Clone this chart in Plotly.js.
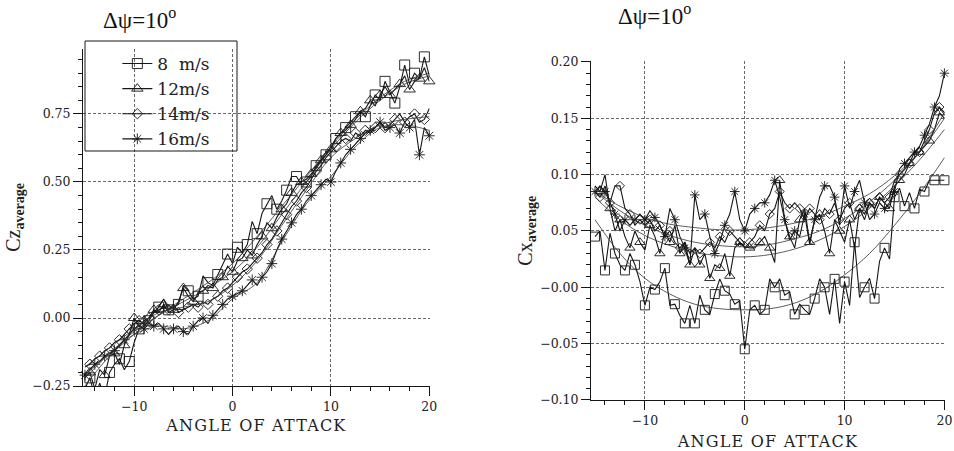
<!DOCTYPE html>
<html>
<head>
<meta charset="utf-8">
<script src="https://cdn.plot.ly/plotly-3.0.1.min.js"></script>
<style>
html,body{margin:0;padding:0;background:#fff;}
#chart{width:954px;height:451px;}
#chart text.xtitle, #chart text.x2title{letter-spacing:1.2px;}
</style>
</head>
<body>
<div id="chart"></div>
<script>
// Angle of attack (deg)
const angle = [
  -15,-14.5,-14,-13.5,-13,-12.5,-12,-11.5,-11,-10.5,
  -10,-9.5,-9,-8.5,-8,-7.5,-7,-6.5,-6,-5.5,
  -5,-4.5,-4,-3.5,-3,-2.5,-2,-1.5,-1,-0.5,
  0,0.5,1,1.5,2,2.5,3,3.5,4,4.5,
  5,5.5,6,6.5,7,7.5,8,8.5,9,9.5,
  10,10.5,11,11.5,12,12.5,13,13.5,14,14.5,
  15,15.5,16,16.5,17,17.5,18,18.5,19,19.5,
  20];
const seriesNames = ["8\u00a0 m/s", "12m/s", "14m/s", "16m/s"];

// Cz average
const cz8 = [
  -0.26,-0.22,-0.29,-0.24,-0.29,-0.20,-0.17,-0.15,-0.19,-0.16,
  -0.09,-0.04,-0.03,-0.01,0.02,0.04,0.07,0.03,0.04,0.05,
  0.12,0.10,0.07,0.08,0.155,0.13,0.12,0.16,0.20,0.235,
  0.20,0.26,0.24,0.27,0.355,0.31,0.385,0.42,0.45,0.40,
  0.43,0.47,0.52,0.52,0.49,0.50,0.52,0.56,0.58,0.60,
  0.63,0.66,0.68,0.70,0.72,0.74,0.76,0.74,0.78,0.82,
  0.80,0.87,0.83,0.79,0.85,0.93,0.86,0.90,0.88,0.96,
  0.89];
const cz12 = [
  -0.22,-0.20,-0.26,-0.19,-0.21,-0.14,-0.13,-0.17,-0.10,-0.06,
  0.00,-0.03,-0.01,0.00,0.03,0.02,0.05,0.02,0.03,0.06,
  0.11,0.08,0.06,0.09,0.10,0.12,0.11,0.14,0.15,0.19,
  0.17,0.21,0.22,0.25,0.23,0.27,0.30,0.35,0.33,0.37,
  0.40,0.42,0.46,0.49,0.50,0.51,0.53,0.55,0.58,0.61,
  0.62,0.66,0.68,0.69,0.71,0.73,0.76,0.77,0.80,0.78,
  0.82,0.85,0.82,0.84,0.86,0.89,0.84,0.87,0.88,0.92,
  0.87];
const cz14 = [
  -0.18,-0.17,-0.15,-0.14,-0.12,-0.11,-0.09,-0.08,-0.06,-0.04,
  -0.02,-0.01,-0.02,0.00,0.02,0.03,0.04,0.03,0.05,0.02,
  0.03,0.04,0.05,0.04,0.06,0.05,0.07,0.08,0.10,0.11,
  0.13,0.15,0.17,0.18,0.20,0.22,0.24,0.27,0.29,0.32,
  0.35,0.38,0.41,0.43,0.46,0.48,0.51,0.54,0.56,0.59,
  0.61,0.63,0.65,0.66,0.65,0.68,0.67,0.69,0.68,0.70,
  0.72,0.70,0.71,0.73,0.75,0.72,0.74,0.75,0.72,0.73,
  0.77];
const cz16 = [
  -0.21,-0.19,-0.17,-0.16,-0.14,-0.13,-0.12,-0.10,-0.08,-0.06,
  -0.04,-0.03,-0.04,-0.02,-0.03,-0.02,-0.04,-0.06,-0.04,-0.03,
  -0.05,-0.06,-0.03,-0.01,0.00,-0.02,0.01,0.03,0.05,0.07,
  0.08,0.09,0.10,0.12,0.14,0.12,0.15,0.17,0.20,0.25,
  0.29,0.32,0.35,0.38,0.40,0.43,0.45,0.47,0.49,0.51,
  0.50,0.54,0.57,0.60,0.62,0.64,0.66,0.68,0.69,0.70,
  0.72,0.69,0.70,0.71,0.68,0.72,0.70,0.73,0.60,0.70,
  0.67];

// Cx average
const cx8 = [
  0.045,0.05,0.015,0.048,0.03,0.02,0.015,0.03,0.02,0.005,
  -0.016,0.0,-0.002,0.005,0.017,-0.016,-0.015,-0.025,-0.032,-0.016,
  -0.032,-0.007,-0.02,-0.024,-0.006,0.0075,-0.003,-0.006,-0.015,-0.012,
  -0.055,-0.02,-0.016,-0.024,-0.02,0.0075,0.0,0.0075,-0.007,-0.004,
  -0.024,-0.015,-0.02,-0.024,-0.01,0.0075,0.0,-0.024,0.0075,-0.032,
  0.005,-0.016,0.04,-0.009,0.0,0.008,-0.01,0.023,0.035,0.025,
  0.08,0.088,0.072,0.084,0.07,0.087,0.085,0.095,0.095,0.095,
  0.095];
const cx12 = [
  0.09,0.085,0.10,0.07,0.05,0.06,0.045,0.035,0.05,0.04,
  0.033,0.055,0.045,0.03,0.05,0.04,0.055,0.03,0.04,0.02,
  0.035,0.02,0.03,0.008,0.02,0.017,0.03,0.01,0.035,0.04,
  0.036,0.035,0.035,0.04,0.045,0.035,0.022,0.095,0.06,0.045,
  0.035,0.06,0.07,0.04,0.06,0.065,0.05,0.03,0.06,0.05,
  0.04,0.06,0.035,0.07,0.06,0.075,0.07,0.08,0.075,0.07,
  0.09,0.095,0.10,0.11,0.115,0.12,0.125,0.13,0.14,0.155,
  0.15];
const cx14 = [
  0.085,0.08,0.09,0.075,0.09,0.09,0.07,0.065,0.055,0.06,
  0.055,0.06,0.05,0.055,0.045,0.05,0.04,0.035,0.04,0.03,
  0.035,0.03,0.035,0.04,0.035,0.045,0.04,0.05,0.045,0.04,
  0.035,0.04,0.045,0.055,0.05,0.065,0.07,0.085,0.075,0.07,
  0.075,0.07,0.06,0.07,0.065,0.06,0.07,0.065,0.075,0.06,
  0.07,0.075,0.06,0.07,0.065,0.075,0.07,0.08,0.075,0.08,
  0.095,0.10,0.105,0.11,0.12,0.12,0.13,0.14,0.155,0.16,
  0.155];
const cx16 = [
  0.085,0.09,0.085,0.075,0.065,0.05,0.06,0.055,0.06,0.065,
  0.06,0.068,0.062,0.055,0.045,0.07,0.06,0.045,0.035,0.02,
  0.082,0.06,0.065,0.045,0.03,0.04,0.055,0.065,0.085,0.06,
  0.05,0.065,0.07,0.075,0.075,0.082,0.095,0.08,0.06,0.042,
  0.05,0.045,0.065,0.038,0.06,0.08,0.09,0.09,0.08,0.055,
  0.09,0.07,0.085,0.095,0.075,0.06,0.065,0.075,0.07,0.075,
  0.085,0.105,0.11,0.115,0.12,0.125,0.135,0.145,0.16,0.17,
  0.19];

// Smoothed fit curves
const fitAngle = [-15,-12.5,-10,-7.5,-5,-2.5,0,2.5,5,7.5,10,12.5,15,17.5,20];
const czFit8  = [-0.25,-0.14,-0.06,0.01,0.07,0.13,0.20,0.30,0.41,0.52,0.63,0.73,0.81,0.87,0.90];
const czFit12 = [-0.22,-0.13,-0.05,0.01,0.06,0.11,0.17,0.26,0.38,0.50,0.62,0.72,0.80,0.86,0.89];
const czFit14 = [-0.18,-0.11,-0.04,0.02,0.04,0.06,0.12,0.21,0.34,0.47,0.59,0.66,0.71,0.73,0.74];
const czFit16 = [-0.21,-0.13,-0.06,-0.03,-0.04,-0.01,0.07,0.13,0.28,0.42,0.52,0.63,0.70,0.71,0.69];
const cxFit8  = [0.06,0.03,0.008,-0.006,-0.015,-0.019,-0.02,-0.019,-0.014,-0.004,0.011,0.03,0.055,0.083,0.115];
const cxFit12 = [0.08,0.06,0.046,0.037,0.031,0.028,0.027,0.029,0.034,0.042,0.054,0.07,0.09,0.113,0.14];
const cxFit14 = [0.085,0.068,0.055,0.046,0.04,0.037,0.036,0.038,0.043,0.05,0.061,0.076,0.095,0.12,0.155];
const cxFit16 = [0.085,0.072,0.062,0.056,0.053,0.051,0.051,0.053,0.057,0.063,0.072,0.083,0.099,0.12,0.15];

// Axis tick labels
const xTickVals = [-10, 0, 10, 20];
const xTickText = ["\u221210", "0", "10", "20"];
const czTickVals = [-0.25, 0, 0.25, 0.5, 0.75];
const czTickText = ["\u22120.25", "0.00", "0.25", "0.50", "0.75"];
const cxTickVals = [-0.10, -0.05, 0, 0.05, 0.10, 0.15, 0.20];
const cxTickText = ["\u22120.10", "\u22120.05", "\u22120.00", "0.05", "0.10", "0.15", "0.20"];

const INK = "#161616";
const symbols = ["square-open", "triangle-up-open", "diamond-open", "asterisk-open"];
const sizes = [10, 10, 8, 9];
const czData = [cz8, cz12, cz14, cz16];
const cxData = [cx8, cx12, cx14, cx16];
const czFits = [czFit8, czFit12, czFit14, czFit16];
const cxFits = [cxFit8, cxFit12, cxFit14, cxFit16];

const traces = [];
for (let i = 0; i < 4; i++) {
  traces.push({
    type: "scatter", mode: "lines+markers", x: angle, y: czData[i], name: seriesNames[i],
    xaxis: "x", yaxis: "y", legendgroup: "g" + i, cliponaxis: false,
    line: {color: INK, width: 1.1},
    marker: {symbol: symbols[i], size: sizes[i], color: INK, maxdisplayed: 36,
             line: {color: INK, width: 0.9}}
  });
}
for (let i = 0; i < 4; i++) {
  traces.push({
    type: "scatter", mode: "lines+markers", x: angle, y: cxData[i], name: seriesNames[i],
    xaxis: "x2", yaxis: "y2", legendgroup: "g" + i, showlegend: false, cliponaxis: false,
    line: {color: INK, width: 1.1},
    marker: {symbol: symbols[i], size: sizes[i] - 1, color: INK, maxdisplayed: 36,
             line: {color: INK, width: 0.9}}
  });
}
for (let i = 0; i < 4; i++) {
  traces.push({type: "scatter", mode: "lines", x: fitAngle, y: czFits[i], xaxis: "x", yaxis: "y",
    showlegend: false, hoverinfo: "skip", line: {color: "#333", width: 0.8, shape: "spline"}});
  traces.push({type: "scatter", mode: "lines", x: fitAngle, y: cxFits[i], xaxis: "x2", yaxis: "y2",
    showlegend: false, hoverinfo: "skip", line: {color: "#333", width: 0.8, shape: "spline"}});
}

const SERIF = "DejaVu Serif, serif";
const tickFont = {family: SERIF, size: 12.5, color: "#222"};
const titleFont = {family: SERIF, size: 16, color: "#222"};
const yTitleFont = {family: "Liberation Serif, serif", size: 20, color: "#222"};
const axBase = {
  showline: true, linecolor: INK, linewidth: 1, mirror: false,
  showgrid: true, gridcolor: "#444", gridwidth: 0.8, griddash: "3px,2px",
  zeroline: false, ticks: "outside", ticklen: 9, tickcolor: INK, tickwidth: 1,
  tickfont: tickFont, tickmode: "array", fixedrange: true
};

const layout = {
  width: 954, height: 451,
  margin: {l: 0, r: 0, t: 0, b: 0},
  paper_bgcolor: "#fff", plot_bgcolor: "rgba(0,0,0,0)",
  showlegend: true,
  legend: {x: 0.123, y: 1 - 46/451, xanchor: "left", yanchor: "top", bgcolor: "rgba(0,0,0,0)",
           borderwidth: 0, font: {family: SERIF, size: 17, color: "#222"},
           tracegroupgap: 0},
  xaxis: Object.assign({}, axBase, {
    domain: [0.087, 0.4505], range: [-15.2, 20.05], anchor: "y",
    tickvals: xTickVals, ticktext: xTickText,
    minor: {tickmode: "linear", tick0: 0, dtick: 2, ticks: "outside", ticklen: 4, tickcolor: INK, showgrid: false},
    title: {text: "ANGLE OF ATTACK", font: titleFont, standoff: 6}
  }),
  yaxis: Object.assign({}, axBase, {
    domain: [0.1441, 0.892], range: [-0.25, 0.99], anchor: "x",
    tickvals: czTickVals, ticktext: czTickText,
    minor: {tickmode: "linear", tick0: 0, dtick: 0.05, ticks: "outside", ticklen: 4, tickcolor: INK, showgrid: false},
    title: {text: "Cz<sub><b>average</b></sub>", font: yTitleFont, standoff: 6}
  }),
  xaxis2: Object.assign({}, axBase, {
    domain: [0.6195, 0.9905], range: [-15.4, 20.05], anchor: "y2",
    tickvals: xTickVals, ticktext: xTickText,
    minor: {tickmode: "linear", tick0: 0, dtick: 2, ticks: "outside", ticklen: 4, tickcolor: INK, showgrid: false},
    title: {text: "ANGLE OF ATTACK", font: titleFont, standoff: 8}
  }),
  yaxis2: Object.assign({}, axBase, {
    domain: [0.1131, 0.8639], range: [-0.10, 0.2005], anchor: "x2",
    tickvals: cxTickVals, ticktext: cxTickText,
    minor: {tickmode: "linear", tick0: 0, dtick: 0.01, ticks: "outside", ticklen: 4, tickcolor: INK, showgrid: false},
    title: {text: "Cx<sub><b>average</b></sub>", font: yTitleFont, standoff: 2}
  }),
  shapes: [
    {type: "rect", xref: "paper", yref: "paper", x0: 85/954, x1: 237/954, y0: 1 - 151/451, y1: 1 - 41/451,
     line: {color: INK, width: 1}, fillcolor: "rgba(0,0,0,0)"}
  ],
  annotations: [
    {xref: "paper", yref: "paper", x: 101/954, y: 1 - 19/451, xanchor: "left", yanchor: "middle", showarrow: false,
     text: "\u0394\u03c8=10<sup>o</sup>", font: {family: "Liberation Serif, serif", size: 23, color: "#111"}},
    {xref: "paper", yref: "paper", x: 616/954, y: 1 - 15/451, xanchor: "left", yanchor: "middle", showarrow: false,
     text: "\u0394\u03c8=10<sup>o</sup>", font: {family: "Liberation Serif, serif", size: 23, color: "#111"}}
  ]
};

Plotly.newPlot("chart", traces, layout, {displayModeBar: false, staticPlot: true});
</script>
</body>
</html>
